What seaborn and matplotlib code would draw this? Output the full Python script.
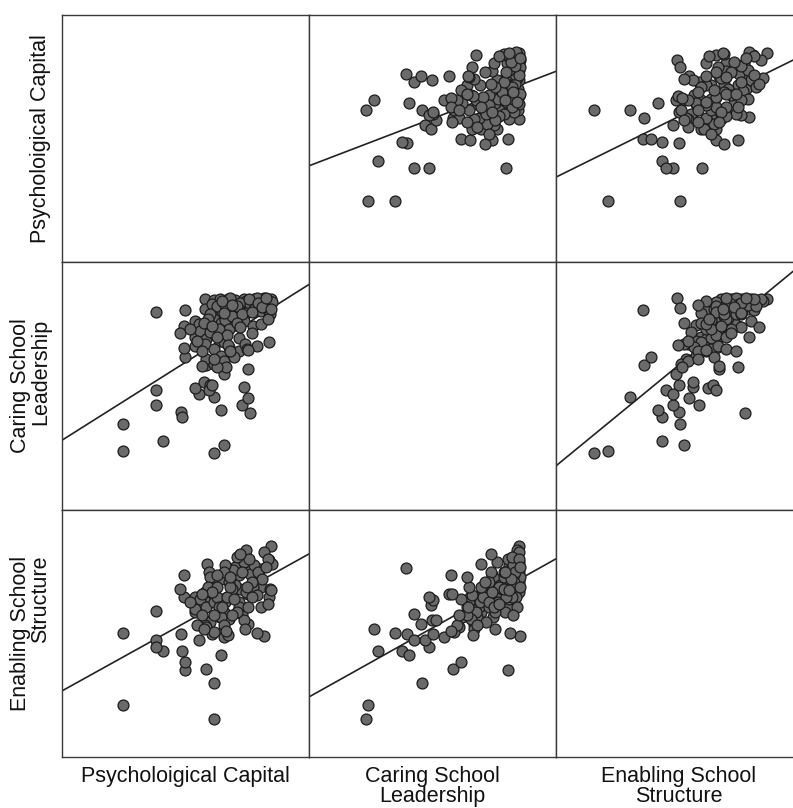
import numpy as np
import pandas as pd
import matplotlib
matplotlib.use('Agg')
import matplotlib.pyplot as plt
import seaborn as sns

sns.set_style('white')
plt.rcParams['font.family'] = ['Liberation Sans', 'DejaVu Sans']

# variable names as shown on the matrix
labels = ['Psycholoigical Capital', 'Caring School\nLeadership', 'Enabling School\nStructure']

# mean scores (1-5)
psy_cap = [1.98, 3.80, 1.98, 2.78, 4.00, 3.14, 3.16, 2.64, 3.22, 2.64, 2.64, 4.36, 3.80, 3.64,
           3.94, 3.22, 4.52, 4.48, 4.40, 4.48, 4.90, 4.94, 4.80, 4.66, 3.66, 3.20, 3.20, 3.12,
           3.50, 3.42, 3.60, 3.72, 3.70, 4.00, 3.76,
           3.62, 3.80, 3.92, 4.08, 4.22, 4.40, 4.44, 4.60, 4.72, 4.80, 4.90, 4.96, 4.66, 4.32,
           4.06, 4.52, 3.62, 3.80, 3.94, 4.10, 4.30, 4.44, 4.60, 4.74, 4.88, 4.18, 3.96, 3.42,
           3.50, 3.80, 3.94, 4.10, 4.22, 4.40, 4.58, 3.70, 4.02, 3.42, 3.52, 3.64, 3.80, 3.92,
           4.10, 4.30, 3.72, 3.42, 3.62, 3.80, 4.00, 4.10, 4.30, 4.42, 4.66, 3.64, 3.80, 3.94,
           4.00,
           3.76, 3.86, 3.72, 4.02, 4.16, 3.90, 4.06, 3.56, 3.68, 4.26, 4.36, 4.50, 4.68, 4.76,
           4.84, 4.56, 4.12, 3.96, 4.26, 3.86, 3.46, 3.32, 3.60, 4.20, 4.56, 4.74, 4.92, 4.46,
           4.00, 3.76, 4.08, 4.04, 4.48, 4.16, 4.32, 3.86, 3.56, 4.12, 3.80, 4.88, 4.94]
caring = [1.94, 1.90, 2.48, 2.14, 2.06, 2.72, 2.62, 4.70, 4.74, 2.86, 3.16, 2.86, 3.02, 3.64,
          2.76, 3.80, 2.70, 3.00, 3.22, 3.56, 4.10, 4.96, 4.98, 4.78, 4.20, 3.98, 4.42, 4.28,
          3.08, 3.20, 3.30, 3.24, 3.16, 3.46, 3.24,
          4.96, 4.94, 4.96, 4.96, 4.94, 4.96, 4.92, 4.96, 4.94, 4.96, 4.92, 4.90, 4.98, 4.88,
          4.90, 4.86, 4.76, 4.72, 4.76, 4.70, 4.74, 4.68, 4.76, 4.72, 4.74, 4.78, 4.68, 4.52,
          4.46, 4.56, 4.48, 4.44, 4.58, 4.52, 4.42, 4.40, 4.54, 4.20, 4.32, 4.16, 4.26, 4.12,
          4.36, 4.18, 4.30, 4.02, 4.06, 3.96, 4.10, 4.00, 3.92, 4.06, 4.02, 3.76, 3.66, 3.82,
          3.72,
          4.86, 4.82, 4.66, 4.84, 4.62, 4.36, 4.24, 3.92, 4.56, 4.82, 4.66, 4.96, 4.88, 4.80,
          4.98, 4.70, 4.98, 4.92, 4.48, 4.20, 4.12, 4.36, 4.48, 3.80, 4.28, 4.46, 4.66, 3.96,
          4.68, 4.42, 4.04, 3.60, 3.94, 4.84, 4.40, 3.60, 3.62, 3.92, 3.76, 4.56, 4.76]
enabling = [1.80, 1.52, 3.24, 2.88, 3.32, 3.22, 2.88, 3.68, 2.50, 3.10, 2.96, 3.62, 2.24, 2.52,
            2.80, 2.66, 4.54, 3.42, 3.50, 4.02, 3.96, 4.98, 3.18, 3.24, 4.62, 3.96, 4.40, 4.12,
            3.10, 3.80, 3.50, 3.90, 3.96, 3.16, 3.22,
            4.06, 4.20, 4.32, 4.46, 4.56, 4.66, 4.90, 4.26, 4.52, 4.86, 4.70, 4.62, 4.36, 4.12,
            3.96, 4.42, 3.76, 4.16, 3.92, 4.28, 4.40, 4.06, 4.60, 4.16, 4.72, 4.50, 3.66, 3.96,
            3.76, 4.06, 4.32, 3.56, 4.20, 4.66, 4.16, 4.46, 3.86, 3.66, 3.92, 3.76, 4.00, 3.56,
            4.26, 3.86, 3.46, 3.72, 3.40, 3.86, 3.66, 3.52, 3.76, 3.32, 4.00, 3.36, 3.26, 3.56,
            3.40,
            4.26, 3.96, 4.36, 4.60, 4.12, 3.76, 3.96, 3.60, 4.16, 4.76, 4.46, 4.72, 4.46, 4.32,
            4.56, 3.96, 4.16, 3.76, 3.66, 4.16, 3.40, 3.86, 3.32, 3.92, 4.26, 3.76, 4.12, 4.16,
            4.46, 4.06, 3.20, 3.28, 3.76, 3.60, 4.82, 4.40, 4.02, 4.36, 3.60, 3.82, 4.10]

df = pd.DataFrame({'pc': psy_cap, 'csl': caring, 'ess': enabling})
cols = ['pc', 'csl', 'ess']
lims = (0.76, 5.70)

W, H = 793, 808
g = sns.PairGrid(df, vars=cols, height=2.47, aspect=1, despine=False)
g.set(xlim=lims, ylim=lims)


def scatter_fit(x, y, **kws):
    sns.regplot(x=x, y=y, ci=None, truncate=False,
                scatter_kws=dict(s=62, color='#6a6a6a', edgecolor='#1c1c1c',
                                 linewidths=0.9, alpha=1, zorder=3),
                line_kws=dict(color='#222222', lw=1.2, zorder=2))


g.map_offdiag(scatter_fit)

for ax in g.axes.flat:
    ax.set_xticks([])
    ax.set_yticks([])
    ax.set_xlabel('')
    ax.set_ylabel('')
    for sp in ax.spines.values():
        sp.set_color('#3a3a3a')
        sp.set_linewidth(1.0)

fig = g.figure
fig.set_size_inches(W / 100, H / 100)
fig.subplots_adjust(left=62 / W, right=803 / W, bottom=1 - 757 / H, top=1 - 15 / H,
                    wspace=0, hspace=0)

col_centers = [185, 432, 679]
row_centers = [138.5, 386, 633.5]
for lab, cx in zip(labels, col_centers):
    fig.text(cx / W, 1 - 766 / H, lab, ha='center', va='top', fontsize=15.5,
             linespacing=0.95, color='#111111')
for lab, cy in zip(labels, row_centers):
    fig.text(51 / W, 1 - cy / H, lab, ha='right', va='center', rotation=90,
             fontsize=15.5, linespacing=0.95, color='#111111')

fig.savefig('out.png', dpi=100)
